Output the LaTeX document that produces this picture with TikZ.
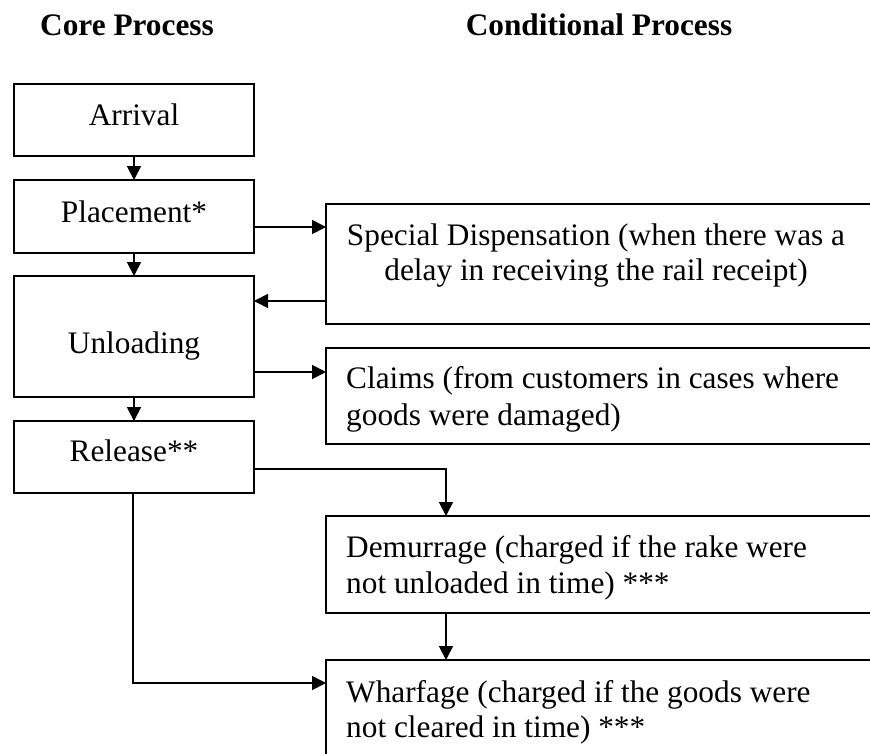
\documentclass[tikz,border=0pt]{standalone}
\usepackage{fontspec}
\setmainfont{Liberation Serif}
\usetikzlibrary{arrows.meta}
\begin{document}
\begin{tikzpicture}[x=1pt,y=-1pt,
  box/.style={draw=black,line width=2pt,rectangle,inner sep=0pt,outer sep=0pt,anchor=north west},
  txt/.style={inner sep=0pt,font=\fontsize{31.3pt}{36pt}\selectfont},
  head/.style={inner sep=0pt,font=\fontsize{31.3pt}{36pt}\selectfont\bfseries},
  conn/.style={line width=1.8pt,-{Triangle[length=14pt,width=14pt]}},
  line/.style={line width=1.8pt}]
\clip (0,0) rectangle (870,753);
\fill[white] (0,0) rectangle (870,753);
% headers
\node[head,anchor=base] (h1) at (127,35) {Core Process};
\node[head,anchor=base] (h2) at (599,35) {Conditional Process};
% core boxes
\node[box,minimum width=240pt,minimum height=72pt] (arr) at (14,84) {};
\node[box,minimum width=240pt,minimum height=73pt] (plc) at (14,180) {};
\node[box,minimum width=240pt,minimum height=121pt] (unl) at (14,276) {};
\node[box,minimum width=240pt,minimum height=72pt] (rel) at (14,421) {};
% conditional boxes (extend beyond the right edge)
\node[box,minimum width=560pt,minimum height=120pt] (sd) at (326,204) {};
\node[box,minimum width=560pt,minimum height=96pt] (clm) at (326,348) {};
\node[box,minimum width=560pt,minimum height=97pt] (dem) at (326,516) {};
\node[box,minimum width=560pt,minimum height=130pt] (wha) at (326,660) {};
% texts
\node[txt,anchor=base] (arrt) at (134,125) {Arrival};
\node[txt,anchor=base] (plct) at (134,222) {Placement*};
\node[txt,anchor=base] (unlt) at (134,353) {Unloading};
\node[txt,anchor=base] (relt) at (134,461) {Release**};
\node[txt,anchor=base] (sdt1) at (596,245) {Special Dispensation (when there was a};
\node[txt,anchor=base] (sdt2) at (596,280) {delay in receiving the rail receipt)};
\node[txt,anchor=base west] (clmt1) at (346,388) {Claims (from customers in cases where};
\node[txt,anchor=base west] (clmt2) at (346,425) {goods were damaged)};
\node[txt,anchor=base west] (demt1) at (346,557) {Demurrage (charged if the rake were};
\node[txt,anchor=base west] (demt2) at (346,593) {not unloaded in time) ***};
\node[txt,anchor=base west] (what1) at (346,702) {Wharfage (charged if the goods were};
\node[txt,anchor=base west] (what2) at (346,737) {not cleared in time) ***};
% helper coordinates
\coordinate (yA) at (0,227);
\coordinate (yB) at (0,301);
\coordinate (yC) at (0,372);
\coordinate (yD) at (0,469);
\coordinate (yE) at (0,683);
\coordinate (xK) at (446,0);
\coordinate (xR) at (133,0);
% connectors
\draw[conn] (arr.south) -- (plc.north);
\draw[conn] (plc.south) -- (unl.north);
\draw[conn] (unl.south) -- (rel.north);
\draw[conn] (plc.east |- yA) -- (sd.west |- yA);
\draw[conn] (sd.west |- yB) -- (unl.east |- yB);
\draw[conn] (unl.east |- yC) -- (clm.west |- yC);
\draw[conn] (rel.east |- yD) -| (dem.north -| xK);
\draw[conn] (dem.south -| xK) -- (wha.north -| xK);
\draw[conn] (rel.south -| xR) |- (wha.west |- yE);
\end{tikzpicture}
\end{document}
